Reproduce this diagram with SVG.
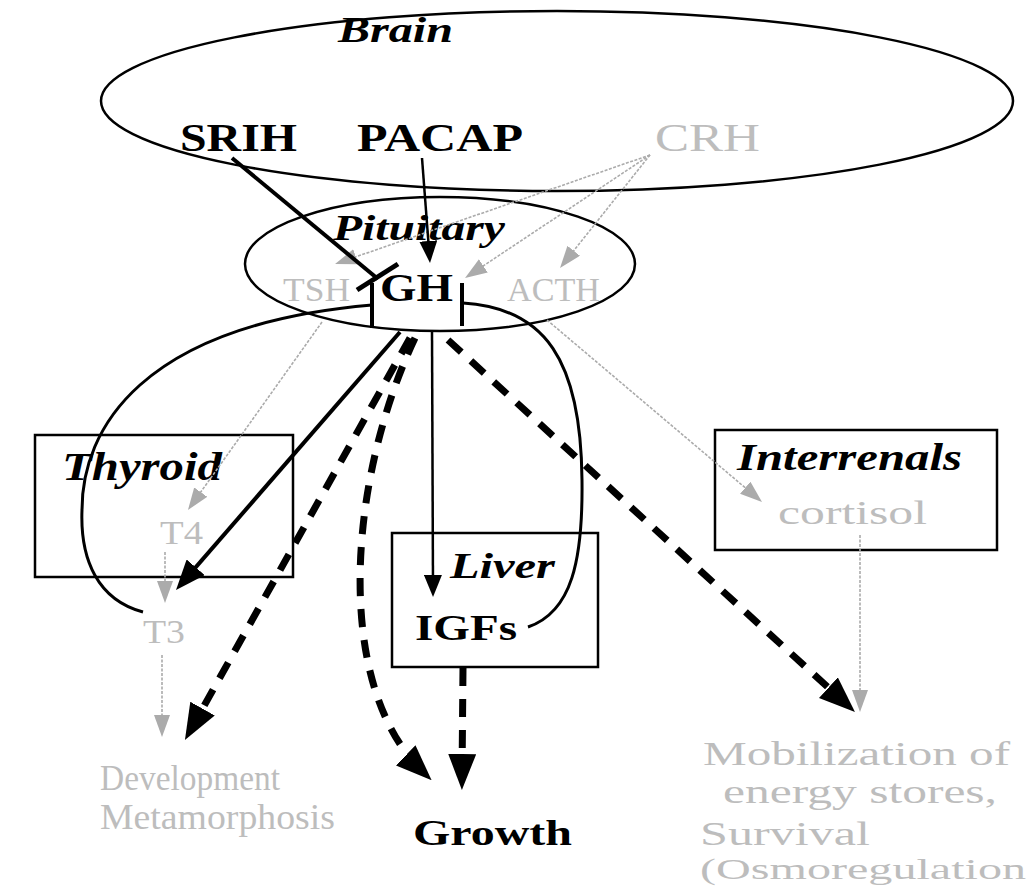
<svg xmlns="http://www.w3.org/2000/svg" width="1032" height="889" viewBox="0 0 1032 889">
<style>
.b{font-family:"Liberation Serif","Times New Roman",serif;font-weight:bold;fill:#000}
.bi{font-family:"Liberation Serif","Times New Roman",serif;font-weight:bold;font-style:italic;fill:#000}
.g{font-family:"Liberation Serif","Times New Roman",serif;fill:#bdbdbd}
.shape{fill:none;stroke:#000;stroke-width:2.5}
.box{fill:none;stroke:#000;stroke-width:2.5}
.gl{fill:none;stroke:#ababab;stroke-width:1.6;stroke-dasharray:3 1.5}
.thin{fill:none;stroke:#000;stroke-width:2.5}
.thick{fill:none;stroke:#000;stroke-width:4}
.dash{fill:none;stroke:#000;stroke-width:7;stroke-dasharray:18 13}
.fb{fill:none;stroke:#000;stroke-width:3}
</style>
<defs>
<marker id="ah" markerUnits="userSpaceOnUse" markerWidth="36" markerHeight="28" viewBox="0 0 36 28" refX="24" refY="14" orient="auto"><path d="M0,0 L36,14 L0,28 Z" fill="#000"/></marker>
<marker id="ahm" markerUnits="userSpaceOnUse" markerWidth="30" markerHeight="24" viewBox="0 0 30 24" refX="18" refY="12" orient="auto"><path d="M0,0 L30,12 L0,24 Z" fill="#000"/></marker>
<marker id="ahs" markerUnits="userSpaceOnUse" markerWidth="22" markerHeight="18" viewBox="0 0 22 18" refX="14" refY="9" orient="auto"><path d="M0,0 L22,9 L0,18 Z" fill="#000"/></marker>
<marker id="ahg" markerUnits="userSpaceOnUse" markerWidth="22" markerHeight="16" viewBox="0 0 22 16" refX="14" refY="8" orient="auto"><path d="M0,0 L22,8 L0,16 Z" fill="#ababab"/></marker>
</defs>
<rect width="1032" height="889" fill="#fff"/>

<g id="brain">
<ellipse class="shape" cx="557" cy="101" rx="456" ry="90"/>
<text class="bi" x="338" y="42" font-size="36" textLength="115" lengthAdjust="spacingAndGlyphs">Brain</text>
<text class="b" x="180" y="151" font-size="40" textLength="117" lengthAdjust="spacingAndGlyphs">SRIH</text>
<text class="b" x="357" y="151" font-size="40" textLength="166" lengthAdjust="spacingAndGlyphs">PACAP</text>
<text class="g" x="655" y="151" font-size="40" textLength="105" lengthAdjust="spacingAndGlyphs">CRH</text>
</g>

<g id="pituitary">
<ellipse class="shape" cx="440" cy="264" rx="195" ry="67"/>
<text class="bi" x="333" y="240" font-size="36" textLength="172" lengthAdjust="spacingAndGlyphs">Pituitary</text>
<text class="g" x="283" y="301" font-size="34" textLength="67" lengthAdjust="spacingAndGlyphs">TSH</text>
<text class="b" x="380" y="301" font-size="40" textLength="73" lengthAdjust="spacingAndGlyphs">GH</text>
<text class="g" x="507" y="301" font-size="34" textLength="93" lengthAdjust="spacingAndGlyphs">ACTH</text>
</g>

<g id="thyroid">
<rect class="box" x="35" y="435" width="258" height="142"/>
<text class="bi" x="62" y="480" font-size="40" textLength="160" lengthAdjust="spacingAndGlyphs">Thyroid</text>
<text class="g" x="160" y="544" font-size="34" textLength="43" lengthAdjust="spacingAndGlyphs">T4</text>
<text class="g" x="143" y="643" font-size="34" textLength="42" lengthAdjust="spacingAndGlyphs">T3</text>
</g>

<g id="liver">
<rect class="box" x="392" y="533" width="206" height="134"/>
<text class="bi" x="450" y="578" font-size="36" textLength="105" lengthAdjust="spacingAndGlyphs">Liver</text>
<text class="b" x="415" y="640" font-size="36" textLength="102" lengthAdjust="spacingAndGlyphs">IGFs</text>
</g>

<g id="interrenals">
<rect class="box" x="715" y="430" width="282" height="120"/>
<text class="bi" x="737" y="470" font-size="38" textLength="225" lengthAdjust="spacingAndGlyphs">Interrenals</text>
<text class="g" x="778" y="524" font-size="34" textLength="149" lengthAdjust="spacingAndGlyphs">cortisol</text>
</g>

<g id="development">
<text class="g" x="100" y="790" font-size="36" textLength="180" lengthAdjust="spacingAndGlyphs">Development</text>
<text class="g" x="100" y="829" font-size="36" textLength="235" lengthAdjust="spacingAndGlyphs">Metamorphosis</text>
</g>

<g id="growth">
<text class="b" x="413" y="845" font-size="36" textLength="159" lengthAdjust="spacingAndGlyphs">Growth</text>
</g>

<g id="mobilization">
<text class="g" x="703" y="765" font-size="34" textLength="307" lengthAdjust="spacingAndGlyphs">Mobilization of</text>
<text class="g" x="723" y="803" font-size="34" textLength="274" lengthAdjust="spacingAndGlyphs">energy stores,</text>
<text class="g" x="700" y="845" font-size="34" textLength="170" lengthAdjust="spacingAndGlyphs">Survival</text>
<text class="g" x="700" y="879" font-size="30" textLength="326" lengthAdjust="spacingAndGlyphs">(Osmoregulation</text>
</g>

<g id="connectors">
<line class="gl" x1="650" y1="155" x2="342.6" y2="261.4" marker-end="url(#ahg)"/>
<line class="gl" x1="650" y1="155" x2="471.7" y2="273.6" marker-end="url(#ahg)"/>
<line class="gl" x1="650" y1="155" x2="565" y2="261.7" marker-end="url(#ahg)"/>
<line class="gl" x1="322" y1="322" x2="192.6" y2="503.5" marker-end="url(#ahg)"/>
<line class="gl" x1="165" y1="552" x2="165" y2="595" marker-end="url(#ahg)"/>
<line class="gl" x1="162" y1="655" x2="162" y2="729" marker-end="url(#ahg)"/>
<line class="gl" x1="547" y1="320" x2="755.9" y2="496.8" marker-end="url(#ahg)"/>
<line class="gl" x1="860" y1="535" x2="860" y2="704" marker-end="url(#ahg)"/>
<line class="thick" x1="232" y1="158" x2="378" y2="279"/>
<line x1="357" y1="290" x2="398" y2="264" stroke="#000" stroke-width="5"/>
<line class="thin" x1="422" y1="158" x2="429.4" y2="255" marker-end="url(#ahs)"/>
<line class="thin" x1="432" y1="332" x2="433" y2="589" marker-end="url(#ahs)"/>
<line class="thick" x1="400" y1="332" x2="183.9" y2="580.9" marker-end="url(#ahm)"/>
<line class="dash" x1="410" y1="338" x2="190.8" y2="729.5" marker-end="url(#ah)"/>
<path class="dash" d="M415,338 C348,480 333,685 423,772" marker-end="url(#ah)"/>
<line class="dash" x1="448" y1="340" x2="846.1" y2="703.9" marker-end="url(#ah)"/>
<line class="dash" x1="463" y1="668" x2="462" y2="778" marker-end="url(#ah)"/>
<path class="fb" d="M528,627 C572,612 583,560 582,480 C581,360 545,308 463,303"/>
<line x1="462" y1="283" x2="462" y2="326" stroke="#000" stroke-width="4"/>
<path class="fb" d="M143,612 C98,600 80,560 82,510 C82,430 140,325 372,305"/>
<line x1="372" y1="283" x2="372" y2="328" stroke="#000" stroke-width="4"/>
</g>
</svg>
